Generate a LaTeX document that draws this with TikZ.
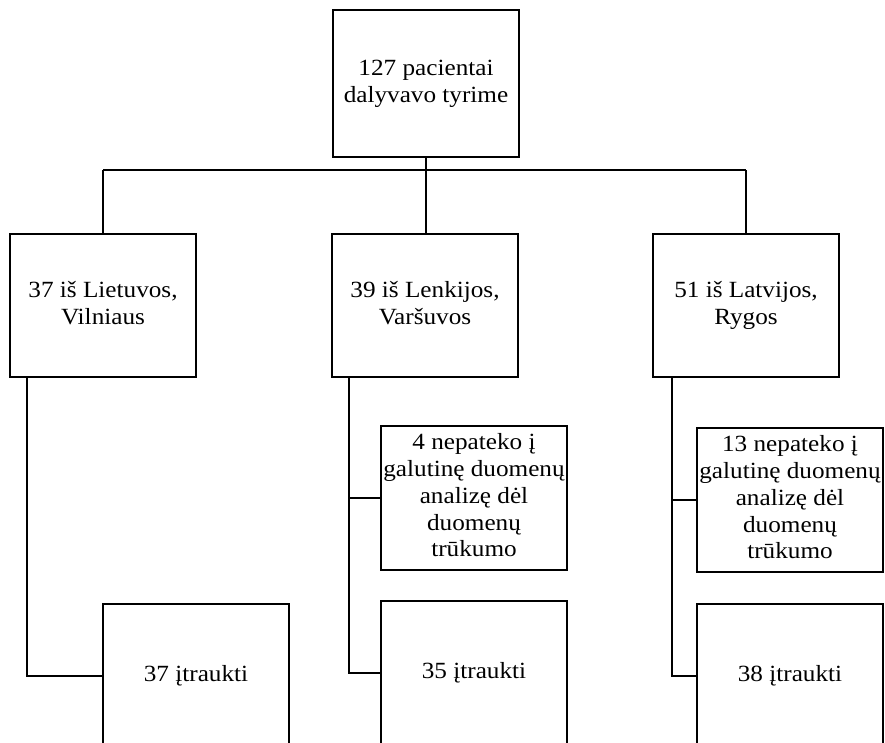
\documentclass[tikz,border=0pt]{standalone}
\usepackage{fontspec}
\setmainfont{Liberation Serif}
\usepackage{graphicx}
\newcommand{\boxtext}[1]{\scalebox{1}[0.92]{\begin{tabular}{@{}c@{}}#1\end{tabular}}}
\begin{document}
\begin{tikzpicture}[x=1pt,y=-1pt,
  flowbox/.style={draw, line width=1.8pt, inner sep=0pt, minimum width=186pt,
    font=\fontsize{25.2}{29.1}\selectfont},
  link/.style={line width=1.8pt}]
\useasboundingbox (0,0) rectangle (885,743);
\clip (0,0) rectangle (885,743);

% top level
\node[flowbox, minimum height=147pt] (top) at (426,83.5)
  {\boxtext{127 pacientai\\dalyvavo tyrime}};

% cities
\node[flowbox, minimum height=143pt] (lt) at (103,305.5)
  {\boxtext{37 iš Lietuvos,\\Vilniaus}};
\node[flowbox, minimum height=143pt] (pl) at (425,305.5)
  {\boxtext{39 iš Lenkijos,\\Varšuvos}};
\node[flowbox, minimum height=143pt] (lv) at (746,305.5)
  {\boxtext{51 iš Latvijos,\\Rygos}};

% excluded
\node[flowbox, minimum height=144pt] (plout) at (474,498)
  {\boxtext{4 nepateko į\\galutinę duomenų\\analizę dėl\\duomenų\\trūkumo}};
\node[flowbox, minimum height=144pt] (lvout) at (790,500)
  {\boxtext{13 nepateko į\\galutinę duomenų\\analizę dėl\\duomenų\\trūkumo}};

% included
\node[flowbox, minimum height=144pt] (ltin) at (196,676)
  {\boxtext{37 įtraukti}};
\node[flowbox, minimum height=144pt] (plin) at (474,673)
  {\boxtext{35 įtraukti}};
\node[flowbox, minimum height=144pt] (lvin) at (790,676)
  {\boxtext{38 įtraukti}};

% distribution bus
\coordinate (busL) at (103,170);
\coordinate (busR) at (746,170);
\draw[link] (busL) -- (busR);
\draw[link] (top.south) -- (top.south |- pl.north);
\draw[link] (lt.north) -- (lt.north |- busL);
\draw[link] (lv.north) -- (lv.north |- busL);

% stems from each city box
\coordinate (ltstem) at ([xshift=18pt]lt.south west);
\coordinate (plstem) at ([xshift=18pt]pl.south west);
\coordinate (lvstem) at ([xshift=20pt]lv.south west);
\draw[link] (ltstem) |- (ltin.west);
\draw[link] (plstem) |- (plin.west);
\draw[link] (lvstem) |- (lvin.west);
\draw[link] (plout.west) -- (plout.west -| plstem);
\draw[link] (lvout.west) -- (lvout.west -| lvstem);
\end{tikzpicture}
\end{document}
